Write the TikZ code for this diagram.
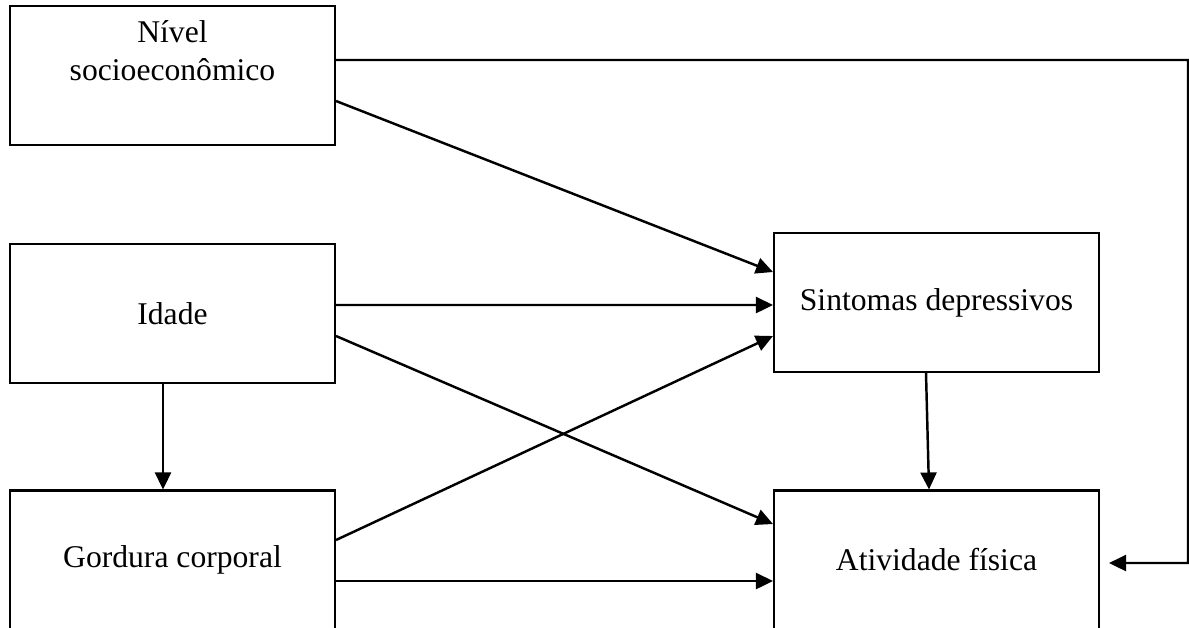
\documentclass[tikz,border=0pt]{standalone}
\usepackage{fontspec}
\setmainfont{Liberation Serif}
\usetikzlibrary{arrows.meta}
\tikzset{
  box/.style={draw, line width=1.2pt, minimum width=6.5cm, minimum height=2.78cm,
    align=center, font=\fontsize{18}{21.6}\selectfont},
  link/.style={line width=1.4pt, -{Triangle[length=0.34cm,width=0.32cm]}}
}
\begin{document}
\begin{tikzpicture}[x=0.02cm,y=-0.02cm]
    \useasboundingbox (0,0) rectangle (1189,627);
    \clip (0,0) rectangle (1189,627);
    \node[box] (niv) at (172.5,75.5) {Nível\\socioeconômico\\ \strut};
    \node[box] (ida) at (172.5,313.5) {Idade};
    \node[box] (gor) at (172.5,560) {Gordura corporal};
    \node[box] (sin) at (936.5,302.5) {Sintomas depressivos};
    \node[box] (ati) at (936.5,560) {Atividade física};
    \coordinate (rt) at (1188,60);
    \coordinate (rb) at (1188,563);
    \draw[link] ([yshift=-0.51cm]niv.east) -- ([yshift=0.61cm]sin.west);
    \draw[link] ([yshift=0.17cm]ida.east) -- ([yshift=-0.05cm]sin.west);
    \draw[link] ([yshift=-0.45cm]ida.east) -- ([yshift=0.72cm]ati.west);
    \draw[link] ([yshift=0.40cm]gor.east) -- ([yshift=-0.67cm]sin.west);
    \draw[link] ([yshift=-0.42cm]gor.east) -- ([yshift=-0.42cm]ati.west);
    \draw[link] ([xshift=-0.19cm]ida.south) -- ([xshift=-0.19cm]gor.north);
    \draw[link] ([xshift=-0.21cm]sin.south) -- ([xshift=-0.15cm]ati.north);
    \draw[link] ([yshift=0.31cm]niv.east) -- (rt) -- (rb) -- ([xshift=0.18cm,yshift=-0.06cm]ati.east);
\end{tikzpicture}
\end{document}
